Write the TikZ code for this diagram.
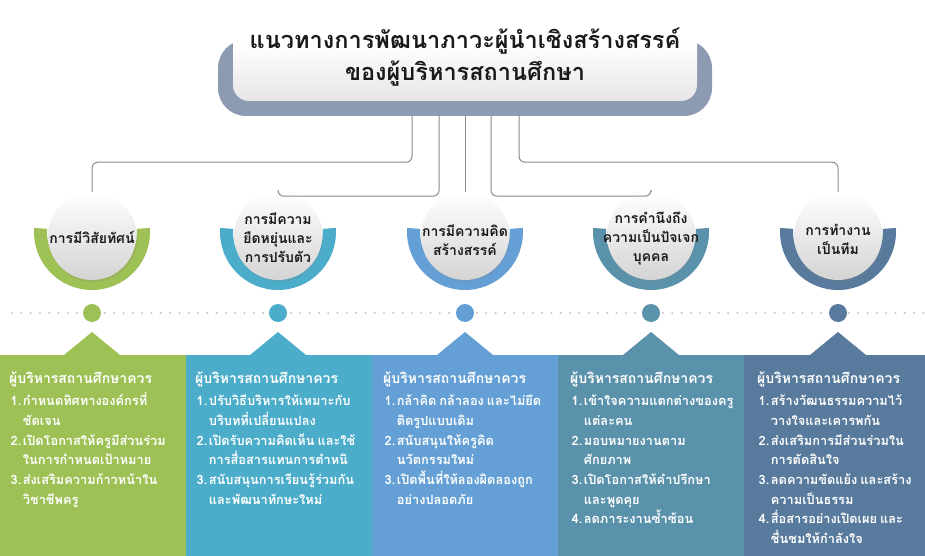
\documentclass[tikz,border=0pt]{standalone}
\usepackage{fontspec}
\newfontfamily\thai[Script=Thai]{Loma}
\usetikzlibrary{shadows,calc}
\definecolor{cA}{HTML}{9DC155}
\definecolor{cB}{HTML}{4BADCA}
\definecolor{cC}{HTML}{64A0D5}
\definecolor{cD}{HTML}{5A92AC}
\definecolor{cE}{HTML}{587A9C}
\definecolor{basegray}{HTML}{8C9BB2}
\definecolor{linegray}{HTML}{8A8A8A}
\definecolor{dotgray}{HTML}{C8C8C8}
\definecolor{titletext}{HTML}{1A1A1A}
\DeclareRobustCommand{\colfont}{\thai\bfseries\fontsize{12.8}{19.7}\selectfont\spaceskip=3pt plus 1pt minus 0.5pt\relax}
\tikzset{
  conn/.style={draw=linegray, line width=1pt, rounded corners=6pt},
  whiteball/.style={circle, minimum size=88pt, inner sep=0pt, top color=white, bottom color=black!17,
     drop shadow={opacity=0.2, shadow xshift=1pt, shadow yshift=-2pt}},
  circlabel/.style={font=\thai\bfseries\fontsize{14}{19}\selectfont, align=center, text=titletext},
  bigdot/.style={circle, minimum size=18pt, inner sep=0pt},
  colhead/.style={anchor=north west, inner sep=0pt, text=white, font=\colfont},
}
\newcommand{\ringat}[3]{% x, y, color
  \fill[#3] ($(#1,#2)+(-4:58)$) arc[start angle=-4, end angle=184, radius=58]
     -- ($(#1,#2)+(184:45)$) arc[start angle=184, end angle=-4, radius=45] -- cycle;}
\newcommand{\hd}[1]{\multicolumn{2}{@{}l@{}}{\fontsize{14}{19.7}\selectfont\smash{#1}}\\[2pt]}
\newcommand{\ia}[2]{#1&\smash{#2}\\}
\newcommand{\ib}[1]{&\smash{#1}\\}
\begin{document}
\begin{tikzpicture}[x=1pt,y=-1pt]
\useasboundingbox (0,0) rectangle (925,556);
\fill[white] (0,0) rectangle (925,556);
% title
\node[fill=basegray, rounded corners=28pt, minimum width=494pt, minimum height=76pt, inner sep=0pt] (base) at (465,78) {};
\node[rounded corners=16pt, minimum width=464pt, minimum height=114pt, inner sep=0pt,
      top color=white, bottom color=black!10, middle color=white] (title) at (465,44) {};
\node[font=\thai\bfseries\fontsize{23.5}{32}\selectfont, align=center, text=titletext] (ttext) at (465,57)
  {แนวทางการพัฒนาภาวะผู้นำเชิงสร้างสรรค์\\ของผู้บริหารสถานศึกษา};
% columns
\fill[cA] (0,355) -- (64,355) -- (92,332) -- (120,355) -- (186,355) -- (186,556) -- (0,556) -- cycle;
\fill[cB] (186,355) -- (250,355) -- (278,332) -- (306,355) -- (372,355) -- (372,556) -- (186,556) -- cycle;
\fill[cC] (372,355) -- (437,355) -- (465,332) -- (493,355) -- (558,355) -- (558,556) -- (372,556) -- cycle;
\fill[cD] (558,355) -- (623,355) -- (651,332) -- (679,355) -- (744,355) -- (744,556) -- (558,556) -- cycle;
\fill[cE] (744,355) -- (810,355) -- (838,332) -- (866,355) -- (925,355) -- (925,556) -- (744,556) -- cycle;
% rings and circles
\ringat{92}{232}{cA}
\ringat{278}{232}{cB}
\ringat{465}{232}{cC}
\ringat{651}{232}{cD}
\ringat{838}{232}{cE}
\node[whiteball] (c1) at (92,236) {};
\node[whiteball] (c2) at (278,236) {};
\node[whiteball] (c3) at (465,236) {};
\node[whiteball] (c4) at (651,236) {};
\node[whiteball] (c5) at (838,236) {};
\node[circlabel] (l1) at (92,237) {การมีวิสัยทัศน์};
\node[circlabel] (l2) at (278,238) {การมีความ\\ยืดหยุ่นและ\\การปรับตัว};
\node[circlabel] (l3) at (465,240) {การมีความคิด\\สร้างสรรค์};
\node[circlabel] (l4) at (651,239) {การคำนึงถึง\\ความเป็นปัจเจก\\บุคคล};
\node[circlabel] (l5) at (838,239) {การทำงาน\\เป็นทีม};
% connectors
\draw[conn] ([xshift=-53pt]base.south) -- ++(0,46) -| (c1.north);
\draw[conn] ([xshift=-26pt]base.south) -- ++(0,80) -| (c2.north);
\draw[conn] (base.south) -- (c3.north);
\draw[conn] ([xshift=26pt]base.south) -- ++(0,80) -| (c4.north);
\draw[conn] ([xshift=54pt]base.south) -- ++(0,46) -| (c5.north);
% dotted line
\coordinate (dl) at (12,313);
\coordinate (dr) at (925,313);
\draw[dotgray, line width=2.3pt, line cap=round, dash pattern=on 0pt off 9.3pt] (dl) -- (dr);
\node[bigdot, fill=cA] (d1) at (92,313) {};
\node[bigdot, fill=cB] (d2) at (278,313) {};
\node[bigdot, fill=cC] (d3) at (465,313) {};
\node[bigdot, fill=cD] (d4) at (651,313) {};
\node[bigdot, fill=cE] (d5) at (838,313) {};
% column texts
\node[colhead] (t1) at (9,370) {\begin{tabular}{@{\hspace{1.5pt}}l@{\hspace{1.5pt}}l@{}}
  \hd{ผู้บริหารสถานศึกษาควร}
  \ia{1.}{กำหนดทิศทางองค์กรที่}\ib{ชัดเจน}
  \ia{2.}{เปิดโอกาสให้ครูมีส่วนร่วม}\ib{ในการกำหนดเป้าหมาย}
  \ia{3.}{ส่งเสริมความก้าวหน้าใน}\ib{วิชาชีพครู}
  \end{tabular}};
\node[colhead] (t2) at (195,370) {\begin{tabular}{@{\hspace{1.5pt}}l@{\hspace{1.5pt}}l@{}}
  \hd{ผู้บริหารสถานศึกษาควร}
  \ia{1.}{ปรับวิธีบริหารให้เหมาะกับ}\ib{บริบทที่เปลี่ยนแปลง}
  \ia{2.}{เปิดรับความคิดเห็น และใช้}\ib{การสื่อสารแทนการตำหนิ}
  \ia{3.}{สนับสนุนการเรียนรู้ร่วมกัน}\ib{และพัฒนาทักษะใหม่}
  \end{tabular}};
\node[colhead] (t3) at (383,370) {\begin{tabular}{@{\hspace{1.5pt}}l@{\hspace{1.5pt}}l@{}}
  \hd{ผู้บริหารสถานศึกษาควร}
  \ia{1.}{กล้าคิด กล้าลอง และไม่ยึด}\ib{ติดรูปแบบเดิม}
  \ia{2.}{สนับสนุนให้ครูคิด}\ib{นวัตกรรมใหม่}
  \ia{3.}{เปิดพื้นที่ให้ลองผิดลองถูก}\ib{อย่างปลอดภัย}
  \end{tabular}};
\node[colhead] (t4) at (570,370) {\begin{tabular}{@{\hspace{1.5pt}}l@{\hspace{1.5pt}}l@{}}
  \hd{ผู้บริหารสถานศึกษาควร}
  \ia{1.}{เข้าใจความแตกต่างของครู}\ib{แต่ละคน}
  \ia{2.}{มอบหมายงานตาม}\ib{ศักยภาพ}
  \ia{3.}{เปิดโอกาสให้คำปรึกษา}\ib{และพูดคุย}
  \ia{4.}{ลดภาระงานซ้ำซ้อน}
  \end{tabular}};
\node[colhead] (t5) at (757,370) {\begin{tabular}{@{\hspace{1.5pt}}l@{\hspace{1.5pt}}l@{}}
  \hd{ผู้บริหารสถานศึกษาควร}
  \ia{1.}{สร้างวัฒนธรรมความไว้}\ib{วางใจและเคารพกัน}
  \ia{2.}{ส่งเสริมการมีส่วนร่วมใน}\ib{การตัดสินใจ}
  \ia{3.}{ลดความขัดแย้ง และสร้าง}\ib{ความเป็นธรรม}
  \ia{4.}{สื่อสารอย่างเปิดเผย และ}\ib{ชื่นชมให้กำลังใจ}
  \end{tabular}};
\end{tikzpicture}
\end{document}
